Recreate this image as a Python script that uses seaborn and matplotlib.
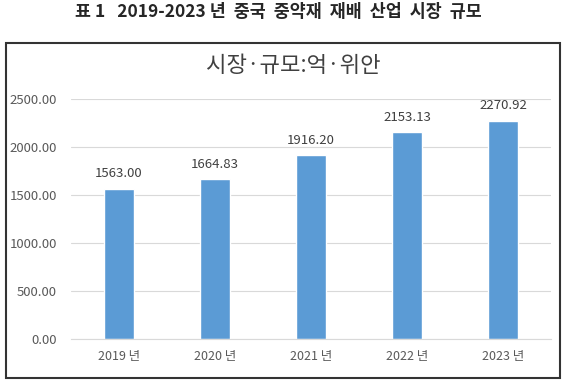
import seaborn as sns
import matplotlib.pyplot as plt
from matplotlib.patches import Rectangle

years = ['2019 년', '2020 년', '2021 년', '2022 년', '2023 년']
values = [1563.00, 1664.83, 1916.20, 2153.13, 2270.92]
yticks = [0, 500, 1000, 1500, 2000, 2500]

sns.set_style('white')
plt.rcParams['font.family'] = ['Noto Sans CJK KR', 'DejaVu Sans']

fig = plt.figure(figsize=(5.71, 3.83), dpi=100)
ax = fig.add_axes([0.124, 0.115, 0.841, 0.627])

sns.barplot(x=years, y=values, color='#5b9bd5', width=0.31, saturation=1, ax=ax)
ax.bar_label(ax.containers[0], fmt='%.2f', padding=6, fontsize=9.5, color='#404040')

ax.set_ylim(0, 2500)
ax.set_yticks(yticks)
ax.set_yticklabels([f'{v:.2f}' for v in yticks], fontsize=9.5, color='#595959')
ax.tick_params(axis='x', labelsize=9, labelcolor='#595959', length=0, pad=8)
ax.tick_params(axis='y', length=0, pad=10)
ax.yaxis.grid(True, color='#d9d9d9', linewidth=0.8)
ax.set_axisbelow(True)
for s in ['top', 'right', 'left']:
    ax.spines[s].set_visible(False)
ax.spines['bottom'].set_color('#d9d9d9')

# chart frame
fig.patches.append(Rectangle((0.0105, 0.013), 0.970, 0.875, transform=fig.transFigure,
                             fill=False, edgecolor='#333333', linewidth=1.5))

fig.text(0.487, 0.968, '표 1   2019-2023 년  중국  중약재  재배  산업  시장  규모',
         ha='center', va='center', fontsize=12.5, fontweight='bold')
fig.text(0.513, 0.83, '시장·규모:억·위안', ha='center', va='center',
         fontsize=16, fontweight='light', color='#404040')

fig.savefig('out.png', dpi=100)
